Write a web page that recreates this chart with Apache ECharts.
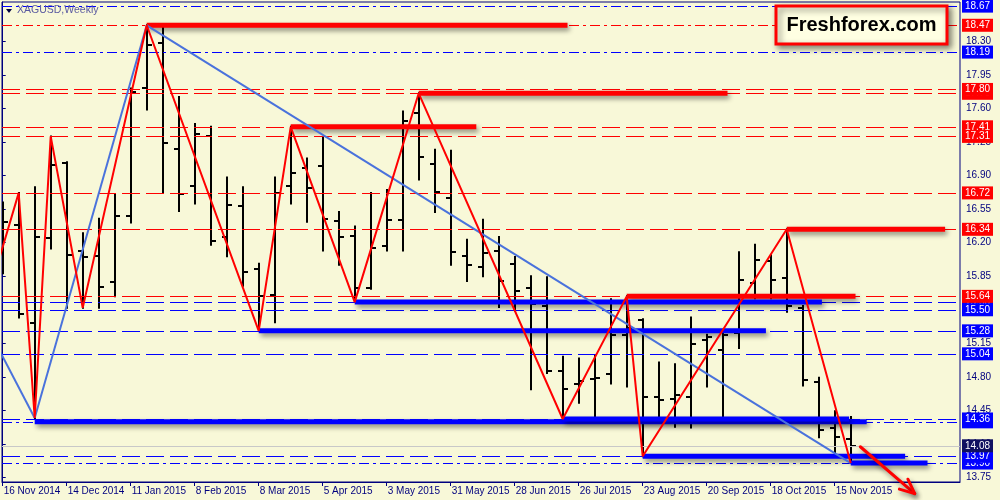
<!DOCTYPE html>
<html><head><meta charset="utf-8">
<script src="https://cdn.jsdelivr.net/npm/echarts@6/dist/echarts.min.js"></script>
<style>html,body{margin:0;padding:0;background:#f8f8d8}#c{width:1000px;height:500px}</style>
</head><body><div id="c"></div>
<script>
// ---------- DATA ----------
const weeks = ['16 Nov 2014','23 Nov 2014','30 Nov 2014','7 Dec 2014','14 Dec 2014','21 Dec 2014','28 Dec 2014',
'4 Jan 2015','11 Jan 2015','18 Jan 2015','25 Jan 2015','1 Feb 2015','8 Feb 2015','15 Feb 2015','22 Feb 2015',
'1 Mar 2015','8 Mar 2015','15 Mar 2015','22 Mar 2015','29 Mar 2015','5 Apr 2015','12 Apr 2015','19 Apr 2015','26 Apr 2015',
'3 May 2015','10 May 2015','17 May 2015','24 May 2015','31 May 2015','7 Jun 2015','14 Jun 2015','21 Jun 2015','28 Jun 2015',
'5 Jul 2015','12 Jul 2015','19 Jul 2015','26 Jul 2015','2 Aug 2015','9 Aug 2015','16 Aug 2015','23 Aug 2015','30 Aug 2015',
'6 Sep 2015','13 Sep 2015','20 Sep 2015','27 Sep 2015','4 Oct 2015','11 Oct 2015','18 Oct 2015','25 Oct 2015',
'1 Nov 2015','8 Nov 2015','15 Nov 2015','22 Nov 2015'];
const opens  = [16.35,16.39,15.36,16.25,17.03,16.11,16.06,15.79,16.48,17.81,18.29,17.18,16.79,17.31,16.26,16.58,15.93,15.65,16.79,16.98,17.00,16.43,16.27,15.73,16.17,16.44,17.55,17.02,16.67,16.06,15.95,16.11,15.98,15.73,15.54,14.86,14.73,14.78,14.83,15.24,15.39,14.59,14.57,14.59,15.18,15.08,15.26,15.78,16.01,15.83,15.52,14.75,14.27,14.15];
const highs  = [16.62,16.72,16.78,17.31,17.04,16.30,16.45,16.70,17.81,18.47,18.46,17.72,17.44,17.41,16.88,16.78,15.98,16.88,17.41,17.08,17.30,16.52,16.37,16.72,16.75,17.57,17.76,17.17,17.16,16.23,16.44,16.26,16.05,15.85,15.84,15.01,14.99,15.02,15.61,15.64,15.40,14.95,14.93,15.42,15.24,15.25,16.10,16.18,16.07,16.34,15.54,14.79,14.44,14.38];
const lows   = [15.88,15.42,14.37,16.14,15.52,15.52,15.52,15.64,16.41,17.59,16.72,16.53,16.61,16.18,16.06,15.75,15.28,15.37,16.61,16.42,16.12,15.97,15.58,15.72,16.12,16.12,16.86,16.52,15.97,15.80,15.85,15.53,15.49,14.67,14.84,14.36,14.53,14.38,14.73,14.70,13.97,14.39,14.28,14.27,14.70,14.38,15.10,15.62,15.62,15.48,14.71,14.17,13.97,13.90];
const closes = [16.42,15.46,16.26,17.01,16.07,16.05,15.74,16.48,17.77,18.26,17.24,16.71,17.33,16.22,16.59,15.89,15.64,16.72,16.93,16.77,16.45,16.26,15.73,16.15,16.44,17.47,17.10,16.73,16.10,15.97,16.09,15.80,15.70,15.56,14.86,14.67,14.76,14.79,15.24,15.31,14.59,14.56,14.61,15.14,15.22,15.24,15.81,16.02,15.81,15.54,14.77,14.24,14.17,14.08];

const xTickLabels = ['16 Nov 2014','14 Dec 2014','11 Jan 2015','8 Feb 2015','8 Mar 2015','5 Apr 2015','3 May 2015',
'31 May 2015','28 Jun 2015','26 Jul 2015','23 Aug 2015','20 Sep 2015','18 Oct 2015','15 Nov 2015'];
const yTickLabels = ['18.30','17.95','17.60','17.25','16.90','16.55','16.20','15.85','15.50','15.15','14.80','14.45','14.10','13.75'];

// ZigZag pivots (week index, price)
const zigzagIdx = [-1, 1, 2, 3, 5, 9, 16, 18, 22, 26, 35, 39, 40, 49, 53];
const zigzagVal = [15.59,16.72,14.37,17.31,15.52,18.47,15.28,17.41,15.58,17.76,14.36,15.64,13.97,16.34,13.90];

// Blue trend lines: [fromIdx, fromPrice, toIdx, toPrice]
const trendLines = [[-1, 15.33, 2, 14.37], [2, 14.37, 9, 18.47], [9, 18.47, 53, 13.90]];

// Thick levels: [fromIdx, toIdx, price]
const redLevelSegs  = [[9, 35.3, 18.47], [26, 45.3, 17.76], [18, 29.6, 17.41], [49, 58.9, 16.34], [39, 53.3, 15.64]];
const blueLevelSegs = [[22, 51.2, 15.58], [16, 47.7, 15.28], [2, 54.0, 14.33], [35, 52.9, 14.36], [40, 56.4, 13.97], [53, 57.8, 13.90]];

// Full-width horizontal lines with price tags
const redDashDotLevels  = [18.47];
const blueDashDotLevels = [18.67, 18.19, 14.33, 13.90];
const redDashLevels     = [17.76, 17.80, 17.41, 17.31, 16.72, 16.34, 15.64];
const blueDashLevels    = [15.58, 15.50, 15.28, 15.04, 14.36, 13.97];
const bidPrice = 14.08;

// Forecast arrow [fromIdx, fromPrice, toIdx, toPrice]
const arrowLine = [53.6, 14.07, 57.0, 13.58];

// ---------- CHART ----------
const AX = '#00007f';
const FONT = '"Liberation Sans", Arial, sans-serif';
const RED = '#ff0000', BLUE = '#0000ff', TREND = '#4a72dc';
const DASH = [18, 6], DASHDOT = [10, 4, 3, 4];
const shadow = {shadowBlur: 5, shadowOffsetX: 2, shadowOffsetY: 3, shadowColor: 'rgba(0,0,0,0.45)'};

function tag(bg) {
  return {show: true, position: 'end', distance: 2, backgroundColor: bg, color: '#fff',
    padding: [2, 3, 1, 3], fontSize: 10, lineHeight: 10, fontFamily: FONT,
    formatter: p => Number(p.value).toFixed(2)};
}
const markItems = [];
const hiddenFirst = [17.76, 15.58, 14.33, 13.90];
function addLevels(arr, color, type) {
  arr.forEach(v => markItems.push({yAxis: v, lineStyle: {color: color, width: 1, type: type}, label: tag(color),
    _order: hiddenFirst.indexOf(v) >= 0 ? 0 : 1}));
}
addLevels(redDashDotLevels, RED, DASHDOT);
addLevels(blueDashDotLevels, BLUE, DASHDOT);
addLevels(redDashLevels, RED, DASH);
addLevels(blueDashLevels, BLUE, DASH);
markItems.push({yAxis: bidPrice, lineStyle: {color: '#c8c8c8', width: 1, type: 'solid'}, label: tag('#101060'), _order: 1});
markItems.sort((a, b) => a._order - b._order);
markItems.forEach(m => delete m._order);

const series = [];
series.push({type: 'line', data: [], z: 1, silent: true,
  markLine: {silent: true, symbol: ['none', 'none'], precision: 2, animation: false, data: markItems}});

series.push({type: 'custom', z: 3, clip: true, silent: true,
  data: weeks.map((w, i) => [i, opens[i], highs[i], lows[i], closes[i]]),
  encode: {x: 0, y: [1, 2, 3, 4]},
  renderItem: function (params, api) {
    const x = api.value(0);
    const pH = api.coord([x, api.value(2)]), pL = api.coord([x, api.value(3)]);
    const pO = api.coord([x, api.value(1)]), pC = api.coord([x, api.value(4)]);
    const cx = Math.round(pH[0]);
    const st = {stroke: '#000', lineWidth: 2};
    return {type: 'group', children: [
      {type: 'line', shape: {x1: cx, y1: pH[1] - 1, x2: cx, y2: pL[1] + 1}, style: st},
      {type: 'line', shape: {x1: cx - 5, y1: Math.round(pO[1]), x2: cx, y2: Math.round(pO[1])}, style: st},
      {type: 'line', shape: {x1: cx, y1: Math.round(pC[1]), x2: cx + 5, y2: Math.round(pC[1])}, style: st}
    ]};
  }});

redLevelSegs.forEach(s => series.push({type: 'line', z: 5, silent: true, symbol: 'none',
  data: [[s[0], s[2]], [s[1], s[2]]], lineStyle: Object.assign({color: RED, width: 5}, shadow)}));
blueLevelSegs.forEach(s => series.push({type: 'line', z: 5, silent: true, symbol: 'none',
  data: [[s[0], s[2]], [s[1], s[2]]], lineStyle: Object.assign({color: BLUE, width: 5}, shadow)}));

trendLines.forEach(t => series.push({type: 'line', z: 6, silent: true, symbol: 'none', clip: true,
  data: [[t[0], t[1]], [t[2], t[3]]], lineStyle: {color: TREND, width: 2}}));

series.push({type: 'line', z: 7, silent: true, symbol: 'none', clip: true,
  data: zigzagIdx.map((x, i) => [x, zigzagVal[i]]), lineStyle: {color: RED, width: 2}});

// forecast arrow (custom, not clipped)
series.push({type: 'custom', z: 8, clip: false, silent: true,
  data: [arrowLine], encode: {x: [0, 2], y: [1, 3]},
  renderItem: function (params, api) {
    const p1 = api.coord([api.value(0), api.value(1)]);
    const p2 = api.coord([api.value(2), api.value(3)]);
    const a = Math.atan2(p2[1] - p1[1], p2[0] - p1[0]);
    const L = 16, s = 0.42;
    const h1 = [p2[0] - L * Math.cos(a - s), p2[1] - L * Math.sin(a - s)];
    const h2 = [p2[0] - L * Math.cos(a + s), p2[1] - L * Math.sin(a + s)];
    const st = Object.assign({stroke: RED, lineWidth: 3, fill: null, lineCap: 'round', lineJoin: 'round'}, shadow);
    return {type: 'group', children: [
      {type: 'line', shape: {x1: p1[0], y1: p1[1], x2: p2[0], y2: p2[1]}, style: st},
      {type: 'polyline', shape: {points: [h1, p2, h2]}, style: st}
    ]};
  }});

const chart = echarts.init(document.getElementById('c'));
chart.setOption({
  animation: false,
  backgroundColor: '#f8f8d8',
  grid: {left: 2, right: 40, top: 2, bottom: 18, show: true, borderColor: AX, borderWidth: 1, backgroundColor: 'transparent'},
  xAxis: {type: 'value', min: -0.044, max: 59.83,
    axisLine: {show: true, lineStyle: {color: AX}}, splitLine: {show: false},
    axisTick: {show: true, length: 4, lineStyle: {color: AX}, customValues: xTickLabels.map(l => weeks.indexOf(l))},
    axisLabel: {customValues: xTickLabels.map(l => weeks.indexOf(l)), formatter: v => weeks[Math.round(v)],
      align: 'left', margin: 4, padding: [0, 0, 0, 1], color: AX, fontSize: 10, fontFamily: FONT}},
  yAxis: {type: 'value', position: 'right', min: 13.702, max: 18.713, scale: true,
    axisLine: {show: true, lineStyle: {color: AX}}, splitLine: {show: false},
    axisTick: {show: true, length: 3, lineStyle: {color: AX}, customValues: yTickLabels.map(Number)},
    axisLabel: {customValues: yTickLabels.map(Number), formatter: v => Number(v).toFixed(2),
      margin: 6, color: AX, fontSize: 10, fontFamily: FONT}},
  graphic: [
    {type: 'polygon', shape: {points: [[6, 9], [12, 9], [9, 13]]}, style: {fill: '#000040'}, z: 20},
    {type: 'text', left: 17, top: 5, style: {text: 'XAGUSD,Weekly', fill: '#5a5aa0', font: '10.5px ' + FONT}, z: 20},
    {type: 'rect', shape: {x: 776, y: 6, width: 171, height: 38},
      style: {fill: '#ffffe2', stroke: RED, lineWidth: 3, shadowBlur: 6, shadowOffsetX: 3, shadowOffsetY: 3, shadowColor: 'rgba(0,0,0,0.45)'}, z: 20},
    {type: 'text', x: 861.5, y: 25.5, style: {text: 'Freshforex.com', fill: '#000', font: 'bold 20px ' + FONT,
      textAlign: 'center', textVerticalAlign: 'middle'}, z: 21}
  ],
  series: series
});
</script></body></html>
